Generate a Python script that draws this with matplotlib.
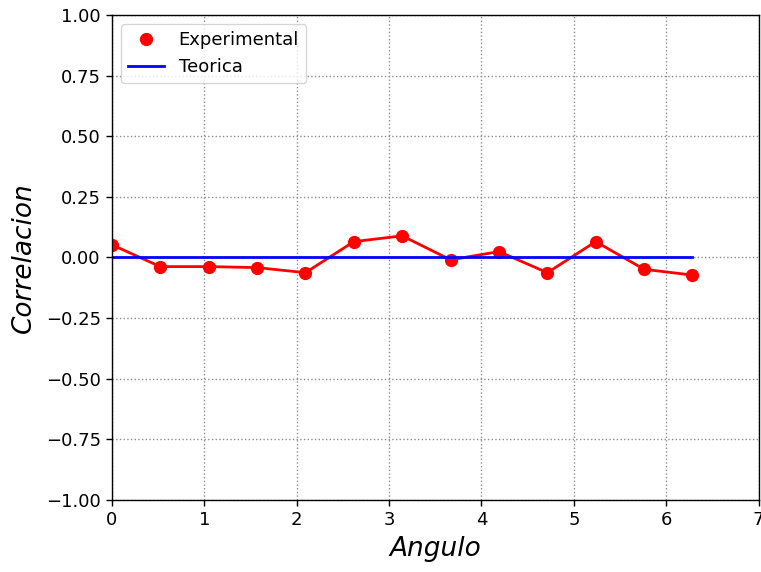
import numpy as np
import matplotlib
matplotlib.use("Agg")
import matplotlib.pyplot as plt

# angles 0..2pi in steps of pi/6
angulo = np.arange(13) * np.pi / 6
corr_exp = [0.052, -0.038, -0.038, -0.042, -0.063, 0.065, 0.089,
            -0.010, 0.024, -0.063, 0.065, -0.049, -0.073]
corr_teo = [0.0] * 13

fig = plt.figure(figsize=(7.61, 5.72), dpi=100)
ax = fig.add_axes([0.147, 0.126, 0.850, 0.848])

ax.plot(angulo, corr_exp, "ro", markersize=8.5, label="Experimental")
ax.plot(angulo, corr_exp, "r-", linewidth=2)
ax.plot(angulo, corr_teo, "b-", linewidth=2, label="Teorica")

ax.set_xlim(0, 7)
ax.set_ylim(-1, 1)
ax.set_yticks(np.arange(-1, 1.01, 0.25))
ax.grid(True, linestyle=":", color="0.55", linewidth=1)
ax.set_xlabel("Angulo", fontsize=19, style="italic", labelpad=5)
ax.set_ylabel("Correlacion", fontsize=19, style="italic", labelpad=6)
ax.tick_params(labelsize=13, length=4.5, width=1)
for s in ax.spines.values():
    s.set_linewidth(1)
ax.legend(loc="upper left", fontsize=13)

fig.savefig("out.png", dpi=100)
